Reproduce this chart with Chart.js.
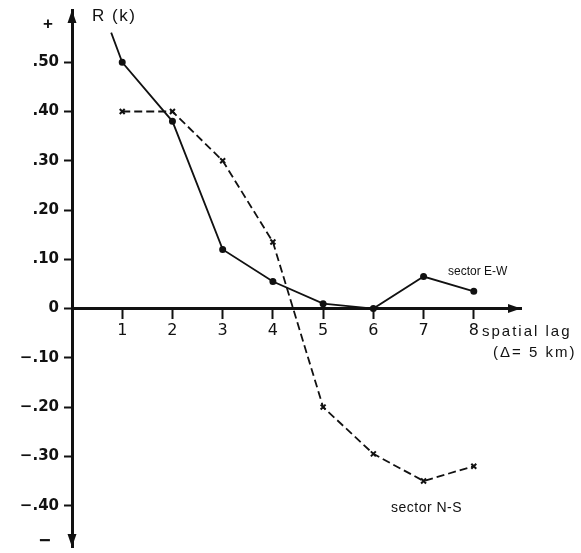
<!DOCTYPE html>
<html>
<head>
<meta charset="utf-8">
<script src="https://cdn.jsdelivr.net/npm/chart.js@4/dist/chart.umd.min.js"></script>
<style>
  html, body { margin: 0; padding: 0; background: #fff; }
  canvas { display: block; }
</style>
</head>
<body>
<canvas id="lag-chart" width="581" height="553"></canvas>
<script>
// spatial lag k (one step = 5 km)
const lags = [1, 2, 3, 4, 5, 6, 7, 8];
// autocorrelation R(k), east-west sector
const ewValues = [0.50, 0.38, 0.12, 0.055, 0.01, 0.0, 0.065, 0.035];
// autocorrelation R(k), north-south sector
const nsValues = [0.40, 0.40, 0.30, 0.135, -0.20, -0.295, -0.35, -0.32];
// the E-W curve carries on a little past lag 1 toward the axis
const ewLead = { x: 0.78, y: 0.56 };
const yTicks = [-0.4, -0.3, -0.2, -0.1, 0, 0.1, 0.2, 0.3, 0.4, 0.5];

const ink = "#111";
const yTickFont = { family: "DejaVu Sans", size: 15, weight: "bold" };
const xTickFont = { family: "DejaVu Sans", size: 16 };

function fmtR(v) {
  if (Math.abs(v) < 1e-9) return "0";
  const s = Math.abs(v).toFixed(2).slice(1);
  return v < 0 ? "\u2212" + s : s;
}

const ewData = [ewLead].concat(lags.map((k, i) => ({ x: k, y: ewValues[i] })));
const nsData = lags.map((k, i) => ({ x: k, y: nsValues[i] }));

function arrow(ctx, x, y, dx, dy) {
  const len = 13, half = 4.5;
  const bx = x - dx * len, by = y - dy * len;
  ctx.beginPath();
  ctx.moveTo(x, y);
  ctx.lineTo(bx - dy * half, by + dx * half);
  ctx.lineTo(bx + dy * half, by - dx * half);
  ctx.closePath();
  ctx.fill();
}

function label(ctx, text, x, y, size, spacing, weight) {
  ctx.font = (weight || "normal") + " " + size + "px 'Liberation Sans'";
  ctx.letterSpacing = (spacing || 0) + "px";
  ctx.textAlign = "left";
  ctx.textBaseline = "middle";
  ctx.fillText(text, x, y);
}

// arrowheads, sign marks and text written over the axes
const annotations = {
  id: "annotations",
  afterDraw(chart) {
    const { ctx, chartArea: a, scales: { x, y } } = chart;
    const x0 = x.getPixelForValue(0);
    const y0 = y.getPixelForValue(0);
    ctx.save();
    ctx.fillStyle = ink;
    arrow(ctx, x0, a.top, 0, -1);
    arrow(ctx, x0, a.bottom, 0, 1);
    arrow(ctx, a.right, y0, 1, 0);

    label(ctx, "+", 43, 24, 17, 0, "bold");
    label(ctx, "\u2212", 39, 541, 20, 0, "bold");
    label(ctx, "R (k)", 92, 16, 17, 1.5);
    label(ctx, "sector E-W", 448, 272, 12, 0);
    label(ctx, "sector N-S", 391, 508, 14, 0.5);
    label(ctx, "spatial lag", 482, 332, 15, 2);
    label(ctx, "(\u0394= 5 km)", 493, 353, 15, 2);
    ctx.restore();
  }
};

const axisBorder = { color: ink, width: 3 };

new Chart(document.getElementById("lag-chart"), {
  type: "scatter",
  data: {
    datasets: [
      {
        label: "sector E-W",
        data: ewData,
        showLine: true,
        borderColor: ink,
        backgroundColor: ink,
        borderWidth: 1.8,
        pointStyle: "circle",
        pointRadius: c => (c.dataIndex === 0 ? 0 : 2.6),
      },
      {
        label: "sector N-S",
        data: nsData,
        showLine: true,
        borderColor: ink,
        backgroundColor: ink,
        borderWidth: 1.8,
        borderDash: [8, 4],
        pointStyle: "crossRot",
        pointRadius: 3.5,
        pointBorderWidth: 2,
      },
    ]
  },
  options: {
    responsive: false,
    devicePixelRatio: 1,
    animation: false,
    layout: { padding: { top: 10, right: 60, bottom: 0, left: 0 } },
    plugins: { legend: { display: false }, tooltip: { enabled: false } },
    scales: {
      x: {
        type: "linear",
        min: 0,
        max: 8.94,
        position: { y: 0 },
        afterBuildTicks: s => { s.ticks = lags.map(v => ({ value: v })); },
        afterFit: s => { s.paddingLeft = 0; s.paddingRight = 0; },
        grid: { drawOnChartArea: false, tickLength: 9, tickWidth: 2, tickColor: ink },
        border: axisBorder,
        ticks: { font: xTickFont, color: ink, padding: 4, maxRotation: 0 },
      },
      y: {
        type: "linear",
        min: -0.484,
        max: 0.606,
        afterBuildTicks: s => { s.ticks = yTicks.map(v => ({ value: v })); },
        afterFit: s => { s.width = 72; s.paddingTop = 0; s.paddingBottom = 0; },
        grid: { drawOnChartArea: false, tickLength: 8, tickWidth: 2, tickColor: ink },
        border: axisBorder,
        ticks: { font: yTickFont, color: ink, padding: 5, callback: v => fmtR(v) },
      },
    }
  },
  plugins: [annotations],
});
</script>
</body>
</html>
